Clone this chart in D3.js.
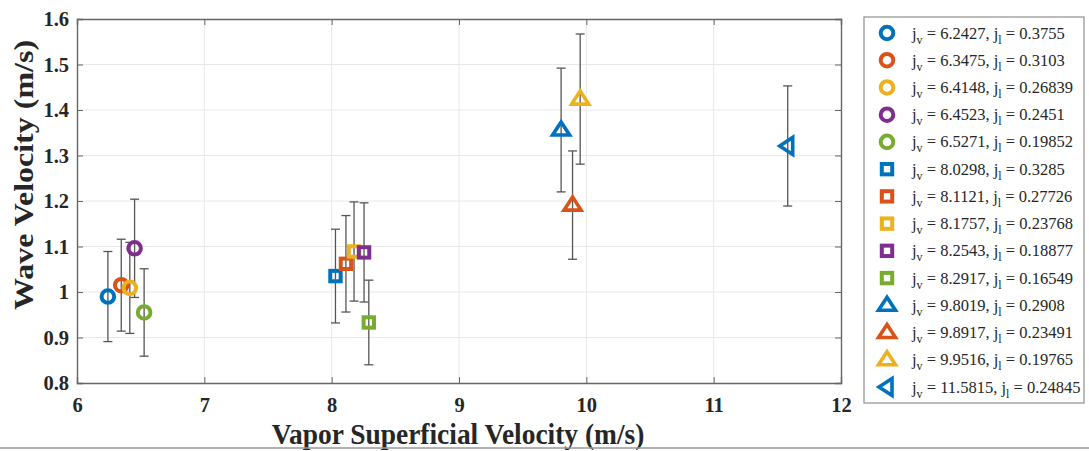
<!DOCTYPE html>
<html><head><meta charset="utf-8">
<script src="https://cdn.jsdelivr.net/npm/d3@7"></script>
<style>body{margin:0;background:#fff}svg{display:block}</style>
</head><body>
<script>
const jv = [6.2427,6.3475,6.4148,6.4523,6.5271,8.0298,8.1121,8.1757,8.2543,8.2917,9.8019,9.8917,9.9516,11.5815];
const jl = ["0.3755","0.3103","0.26839","0.2451","0.19852","0.3285","0.27726","0.23768","0.18877","0.16549","0.2908","0.23491","0.19765","0.24845"];
const jvLabel = ["6.2427","6.3475","6.4148","6.4523","6.5271","8.0298","8.1121","8.1757","8.2543","8.2917","9.8019","9.8917","9.9516","11.5815"];
const waveVel = [0.990,1.015,1.009,1.096,0.955,1.035,1.062,1.089,1.087,0.933,1.356,1.191,1.424,1.321];
const errVal = [0.099,0.101,0.100,0.108,0.096,0.103,0.106,0.109,0.109,0.093,0.136,0.119,0.143,0.132];
const markerType = ["circle","circle","circle","circle","circle","square","square","square","square","square","triUp","triUp","triUp","triLeft"];
const colorIdx = [0,1,2,3,4,0,1,2,3,4,0,1,2,0];
const palette = ["#0072BD","#D95319","#EDB120","#7E2F8E","#77AC30"];
const xTicks = [6,7,8,9,10,11,12];
const yTicks = [0.8,0.9,1.0,1.1,1.2,1.3,1.4,1.5,1.6];
const xTitle = "Vapor Superficial Velocity (m/s)";
const yTitle = "Wave Velocity (m/s)";

const W=1089,H=451;
const L=77,R=841,T=19,B=383;
const svg=d3.select("body").append("svg").attr("width",W).attr("height",H);
const x=d3.scaleLinear().domain([6,12]).range([L,R]);
const y=d3.scaleLinear().domain([0.8,1.6]).range([B,T]);
const serif="'Liberation Serif','Times New Roman',serif";

// grid
const g=svg.append("g");
g.selectAll(".gx").data(xTicks.slice(1,-1)).join("line")
 .attr("x1",d=>x(d)).attr("x2",d=>x(d)).attr("y1",T).attr("y2",B)
 .attr("stroke","#e8e8e8").attr("stroke-width",1);
g.selectAll(".gy").data(yTicks.slice(1,-1)).join("line")
 .attr("y1",d=>y(d)).attr("y2",d=>y(d)).attr("x1",L).attr("x2",R)
 .attr("stroke","#e8e8e8").attr("stroke-width",1);

// axes
const fmtY=d=>d===1?"1":d3.format(".1f")(d);
const axB=svg.append("g").attr("transform",`translate(0,${B})`)
 .call(d3.axisBottom(x).tickValues(xTicks).tickSize(-6).tickPadding(14).tickFormat(d3.format("d")));
const axL=svg.append("g").attr("transform",`translate(${L},0)`)
 .call(d3.axisLeft(y).tickValues(yTicks).tickSize(-6).tickPadding(8).tickFormat(fmtY));
const axT=svg.append("g").attr("transform",`translate(0,${T})`)
 .call(d3.axisTop(x).tickValues(xTicks).tickSize(-6).tickFormat(""));
const axR=svg.append("g").attr("transform",`translate(${R},0)`)
 .call(d3.axisRight(y).tickValues(yTicks).tickSize(-6).tickFormat(""));
[axB,axL,axT,axR].forEach(a=>{
  a.selectAll("path").attr("stroke","#666").attr("stroke-width",1.4);
  a.selectAll("line").attr("stroke","#666");
  a.selectAll("text").attr("font-family",serif).attr("font-weight","bold").attr("font-size",20.5).attr("fill","#262626");
});

// error bars
const eb=svg.append("g").attr("stroke","#555").attr("stroke-width",1.3);
jv.forEach((v,i)=>{
  const cx=x(v), t=y(waveVel[i]+errVal[i]), b=y(waveVel[i]-errVal[i]);
  eb.append("line").attr("x1",cx).attr("x2",cx).attr("y1",t).attr("y2",b);
  eb.append("line").attr("x1",cx-4.5).attr("x2",cx+4.5).attr("y1",t).attr("y2",t);
  eb.append("line").attr("x1",cx-4.5).attr("x2",cx+4.5).attr("y1",b).attr("y2",b);
});

function drawMarker(sel,type,cx,cy,col){
  if(type==="circle"){
    sel.append("circle").attr("cx",cx).attr("cy",cy).attr("r",6.3)
      .attr("fill","none").attr("stroke",col).attr("stroke-width",4);
  } else if(type==="square"){
    sel.append("rect").attr("x",cx-5.2).attr("y",cy-5.2).attr("width",10.4).attr("height",10.4)
      .attr("fill","none").attr("stroke",col).attr("stroke-width",4);
  } else if(type==="triUp"){
    sel.append("path").attr("d",`M${cx},${cy-8} L${cx+8.5},${cy+5} L${cx-8.5},${cy+5}Z`)
      .attr("fill","none").attr("stroke",col).attr("stroke-width",3.6).attr("stroke-linejoin","miter");
  } else {
    sel.append("path").attr("d",`M${cx-8},${cy} L${cx+5},${cy-8.5} L${cx+5},${cy+8.5}Z`)
      .attr("fill","none").attr("stroke",col).attr("stroke-width",3.6).attr("stroke-linejoin","miter");
  }
}
const mk=svg.append("g");
jv.forEach((v,i)=>drawMarker(mk,markerType[i],x(v),y(waveVel[i]),palette[colorIdx[i]]));

// axis titles
svg.append("text").attr("transform",`translate(458,444) scale(0.9,1)`).attr("text-anchor","middle")
 .attr("font-family",serif).attr("font-weight","bold").attr("font-size",30.5).attr("fill","#262626").text(xTitle);
svg.append("text").attr("transform",`translate(33,175) rotate(-90) scale(1,0.84)`).attr("text-anchor","middle")
 .attr("font-family",serif).attr("font-weight","bold").attr("font-size",32).attr("fill","#262626").text(yTitle);

// legend
const lg=svg.append("g");
lg.append("rect").attr("x",864).attr("y",17).attr("width",220).attr("height",386)
 .attr("fill","#fff").attr("stroke","#999").attr("stroke-width",1.3);
const rowY=d3.scaleLinear().domain([0,13]).range([33,387]);
jv.forEach((v,i)=>{
  const ry=rowY(i);
  drawMarker(lg,markerType[i],887,ry,palette[colorIdx[i]]);
  const t=lg.append("text").attr("x",912).attr("y",ry+5.5).attr("font-family",serif).attr("font-size",16.5).attr("fill","#262626");
  t.append("tspan").text("j");
  t.append("tspan").attr("font-size",12).attr("dy",5).text("v");
  t.append("tspan").attr("dy",-5).text(` = ${jvLabel[i]}, j`);
  t.append("tspan").attr("font-size",12).attr("dy",5).text("l");
  t.append("tspan").attr("dy",-5).text(` = ${jl[i]}`);
});

// bottom frame line
svg.append("line").attr("x1",0).attr("x2",W).attr("y1",448).attr("y2",448).attr("stroke","#999").attr("stroke-width",1.5);
</script>
</body></html>
